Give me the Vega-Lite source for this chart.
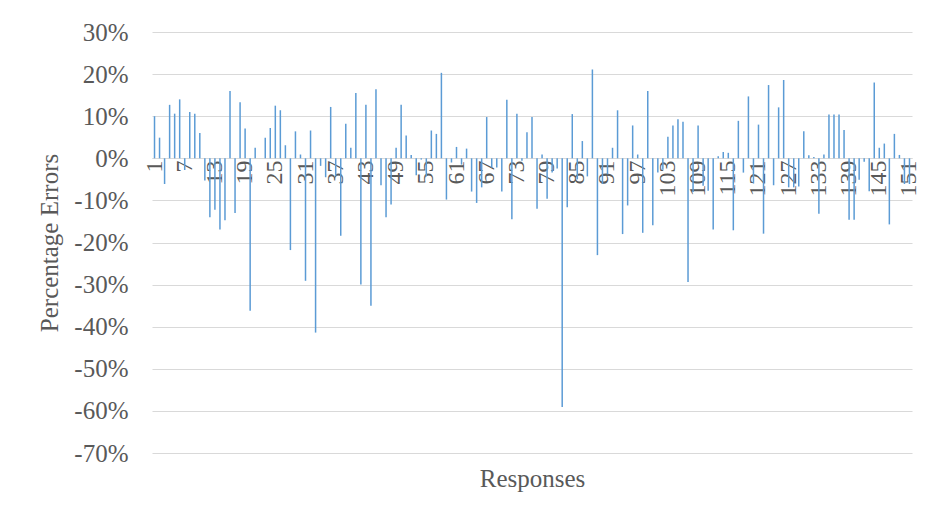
{
  "$schema": "https://vega.github.io/schema/vega-lite/v6.json",
  "width": 760,
  "height": 421,
  "autosize": "none",
  "padding": {"left": 152, "top": 32, "right": 34, "bottom": 73},
  "background": "white",
  "config": {
    "view": {"stroke": null},
    "font": "Liberation Serif",
    "axis": {"labelFont": "Liberation Serif", "titleFont": "Liberation Serif"}
  },
  "data": {"values": [
    {"r":1,"v":0.100},{"r":2,"v":0.049},{"r":3,"v":-0.061},{"r":4,"v":0.127},{"r":5,"v":0.106},
    {"r":6,"v":0.140},{"r":7,"v":-0.028},{"r":8,"v":0.110},{"r":9,"v":0.106},{"r":10,"v":0.060},
    {"r":11,"v":-0.053},{"r":12,"v":-0.140},{"r":13,"v":-0.122},{"r":14,"v":-0.169},{"r":15,"v":-0.147},
    {"r":16,"v":0.160},{"r":17,"v":-0.130},{"r":18,"v":0.133},{"r":19,"v":0.071},{"r":20,"v":-0.362},
    {"r":21,"v":0.025},{"r":22,"v":0.0},{"r":23,"v":0.049},{"r":24,"v":0.072},{"r":25,"v":0.125},
    {"r":26,"v":0.114},{"r":27,"v":0.031},{"r":28,"v":-0.218},{"r":29,"v":0.064},{"r":30,"v":0.009},
    {"r":31,"v":-0.291},{"r":32,"v":0.066},{"r":33,"v":-0.414},{"r":34,"v":-0.018},{"r":35,"v":-0.045},
    {"r":36,"v":0.122},{"r":37,"v":-0.042},{"r":38,"v":-0.184},{"r":39,"v":0.082},{"r":40,"v":0.025},
    {"r":41,"v":0.155},{"r":42,"v":-0.300},{"r":43,"v":0.127},{"r":44,"v":-0.350},{"r":45,"v":0.164},
    {"r":46,"v":-0.064},{"r":47,"v":-0.140},{"r":48,"v":-0.110},{"r":49,"v":0.025},{"r":50,"v":0.127},
    {"r":51,"v":0.054},{"r":52,"v":0.008},{"r":53,"v":-0.040},{"r":54,"v":-0.003},{"r":55,"v":-0.043},
    {"r":56,"v":0.066},{"r":57,"v":0.058},{"r":58,"v":0.203},{"r":59,"v":-0.098},{"r":60,"v":-0.010},
    {"r":61,"v":0.027},{"r":62,"v":-0.015},{"r":63,"v":0.023},{"r":64,"v":-0.079},{"r":65,"v":-0.106},
    {"r":66,"v":-0.069},{"r":67,"v":0.098},{"r":68,"v":-0.022},{"r":69,"v":-0.022},{"r":70,"v":-0.079},
    {"r":71,"v":0.139},{"r":72,"v":-0.145},{"r":73,"v":0.106},{"r":74,"v":-0.006},{"r":75,"v":0.062},
    {"r":76,"v":0.098},{"r":77,"v":-0.120},{"r":78,"v":0.009},{"r":79,"v":-0.096},{"r":80,"v":-0.034},
    {"r":81,"v":-0.024},{"r":82,"v":-0.591},{"r":83,"v":-0.116},{"r":84,"v":0.105},{"r":85,"v":-0.050},
    {"r":86,"v":0.041},{"r":87,"v":-0.043},{"r":88,"v":0.211},{"r":89,"v":-0.230},{"r":90,"v":-0.061},
    {"r":91,"v":-0.038},{"r":92,"v":0.025},{"r":93,"v":0.114},{"r":94,"v":-0.180},{"r":95,"v":-0.112},
    {"r":96,"v":0.078},{"r":97,"v":0.009},{"r":98,"v":-0.177},{"r":99,"v":0.160},{"r":100,"v":-0.159},
    {"r":101,"v":-0.034},{"r":102,"v":-0.027},{"r":103,"v":0.051},{"r":104,"v":0.078},{"r":105,"v":0.093},
    {"r":106,"v":0.087},{"r":107,"v":-0.294},{"r":108,"v":-0.080},{"r":109,"v":0.078},{"r":110,"v":-0.065},
    {"r":111,"v":-0.077},{"r":112,"v":-0.169},{"r":113,"v":0.005},{"r":114,"v":0.015},{"r":115,"v":0.013},
    {"r":116,"v":-0.171},{"r":117,"v":0.089},{"r":118,"v":-0.034},{"r":119,"v":0.147},{"r":120,"v":-0.060},
    {"r":121,"v":0.080},{"r":122,"v":-0.179},{"r":123,"v":0.174},{"r":124,"v":-0.064},{"r":125,"v":0.121},
    {"r":126,"v":0.186},{"r":127,"v":-0.069},{"r":128,"v":-0.069},{"r":129,"v":-0.067},{"r":130,"v":0.064},
    {"r":131,"v":0.007},{"r":132,"v":0.003},{"r":133,"v":-0.132},{"r":134,"v":0.009},{"r":135,"v":0.104},
    {"r":136,"v":0.104},{"r":137,"v":0.104},{"r":138,"v":0.067},{"r":139,"v":-0.146},{"r":140,"v":-0.146},
    {"r":141,"v":-0.051},{"r":142,"v":-0.008},{"r":143,"v":-0.078},{"r":144,"v":0.180},{"r":145,"v":0.025},
    {"r":146,"v":0.035},{"r":147,"v":-0.157},{"r":148,"v":0.058},{"r":149,"v":0.008},{"r":150,"v":-0.061},
    {"r":151,"v":-0.061}
  ]},
  "mark": {"type": "bar", "size": 1.5, "color": "#5B9BD5"},
  "encoding": {
    "x": {
      "field": "r",
      "type": "ordinal",
      "sort": "ascending",
      "scale": {"paddingInner": 0, "paddingOuter": 0},
      "axis": {
        "values": [1,7,13,19,25,31,37,43,49,55,61,67,73,79,85,91,97,103,109,115,121,127,133,139,145,151],
        "offset": -295,
        "labelAngle": -90,
        "labelFont": "Liberation Serif",
        "labelFontSize": 24,
        "labelColor": "#595959",
        "labelPadding": 2,
        "ticks": false,
        "domainColor": "#D9D9D9",
        "domainWidth": 1,
        "grid": false,
        "title": "Responses",
        "titleFont": "Liberation Serif",
        "titleFontSize": 25,
        "titleFontWeight": "normal",
        "titleColor": "#595959",
        "titleY": 320,
        "titleBaseline": "middle"
      }
    },
    "y": {
      "field": "v",
      "type": "quantitative",
      "scale": {"domain": [-0.7, 0.3], "nice": false, "zero": false},
      "axis": {
        "values": [0.3,0.2,0.1,0,-0.1,-0.2,-0.3,-0.4,-0.5,-0.6,-0.7],
        "format": ".0%",
        "labelExpr": "replace(datum.label, '\u2212', '-')",
        "labelFont": "Liberation Serif",
        "labelFontSize": 25,
        "labelColor": "#595959",
        "labelPadding": 24,
        "ticks": false,
        "domain": false,
        "grid": true,
        "gridColor": "#D9D9D9",
        "gridWidth": 1,
        "title": "Percentage Errors",
        "titleFont": "Liberation Serif",
        "titleFontSize": 25,
        "titleFontWeight": "normal",
        "titleColor": "#595959",
        "titlePadding": 11
      }
    }
  }
}
